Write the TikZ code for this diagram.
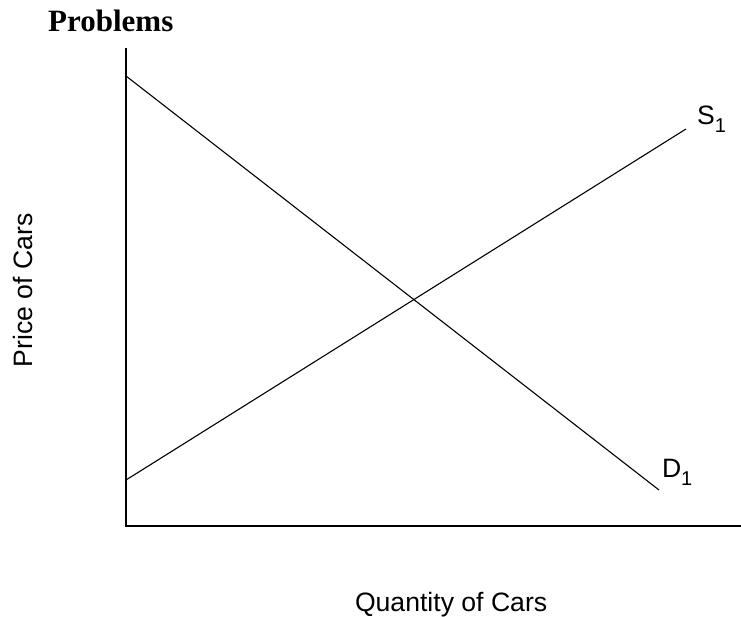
\documentclass[tikz,border=0pt]{standalone}
\usepackage{fontspec}
\setmainfont{Liberation Sans}
\newfontfamily\titlefont{Liberation Serif}
\tikzset{
  lbl/.style={inner sep=0pt, outer sep=0pt, font=\fontsize{26.6}{30}\selectfont},
  curve/.style={line width=1.1pt, black},
  axis/.style={line width=1.3pt, black}
}
\newcommand{\subone}{\raisebox{-8pt}{\fontsize{20}{21}\selectfont 1}}
\begin{document}
\begin{tikzpicture}[x=1pt,y=-1pt]
\useasboundingbox (0,0) rectangle (741,617);
% axes
\coordinate (top) at (126,48);
\coordinate (origin) at (126,526);
\coordinate (right) at (741,526);
\draw[axis] (top) -- (origin) -- (right);
% demand
\coordinate (d0) at (126,76);
\coordinate (d1) at (659,490);
\draw[curve] (d0) -- (d1);
% supply
\coordinate (s0) at (126,480);
\coordinate (s1) at (686,129);
\draw[curve] (s0) -- (s1);
% labels
\node[inner sep=0pt, anchor=base west, font=\titlefont\bfseries\fontsize{31}{35}\selectfont] (title) at (48,32) {Problems};
\node[lbl, anchor=base west] (slab) at (697,125) {S\subone};
\node[lbl, anchor=base west] (dlab) at (662,477) {D\subone};
\node[lbl, anchor=base west] (xlab) at (355,611) {Quantity of Cars};
\node[lbl, anchor=base west, rotate=90] (ylab) at (32,367) {Price of Cars};
\end{tikzpicture}
\end{document}
